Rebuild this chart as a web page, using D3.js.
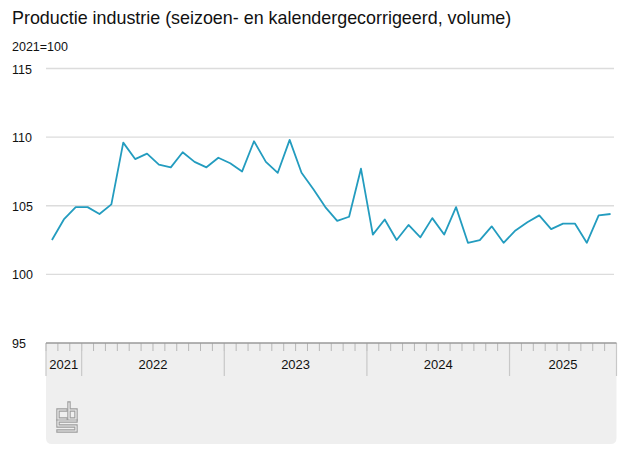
<!DOCTYPE html>
<html><head><meta charset="utf-8">
<script src="https://cdn.jsdelivr.net/npm/d3@7"></script>
<style>
html,body{margin:0;padding:0;background:#fff;}
svg{display:block;font-family:"Liberation Sans",Arial,sans-serif;}
</style></head>
<body><svg id="c" width="627" height="470"></svg>
<script>
const title = "Productie industrie (seizoen- en kalendergecorrigeerd, volume)";
const subtitle = "2021=100";
const years = ["2021","2022","2023","2024","2025"];
const monthsPerYear = [3,12,12,12,9];
const yTicks = [95,100,105,110,115];
const values = [102.5,104.0,104.9,104.9,104.4,105.1,
  109.6,108.4,108.8,108.0,107.8,108.9,108.2,107.8,108.5,108.1,107.5,109.7,
  108.2,107.4,109.8,107.4,106.2,104.9,103.9,104.2,107.7,102.9,104.0,102.5,
  103.6,102.7,104.1,102.9,104.9,102.3,102.5,103.5,102.3,103.2,103.8,104.3,
  103.3,103.7,103.7,102.3,104.3,104.4];

const months = [];
years.forEach((y,i)=>{ const start = i===0 ? 13-monthsPerYear[0] : 1;
  for(let m=0;m<monthsPerYear[i];m++) months.push(y+"-"+(start+m)); });

const svg = d3.select("#c");
const L = 46, R = 616.5, T = 68.5, B = 343;
const x = d3.scaleBand().domain(months).range([L,R]).padding(0);
const y = d3.scaleLinear().domain([95,115]).range([B,T]);

svg.append("text").attr("x",12).attr("y",24).attr("font-size",17.9).attr("fill","#111").text(title);
svg.append("text").attr("x",12).attr("y",51).attr("font-size",12.5).attr("fill","#111").text(subtitle);

// gray axis box
svg.append("path").attr("fill","#efefef")
  .attr("d",`M${L},${B} H${R} V${444-6} Q${R},444 ${R-6},444 H${L+6} Q${L},444 ${L},${444-6} Z`);

// gridlines
svg.append("g").selectAll("line").data(yTicks.filter(d=>d!==95)).join("line")
  .attr("x1",L).attr("x2",614).attr("y1",d=>y(d)).attr("y2",d=>y(d))
  .attr("stroke","#dcdcdc").attr("stroke-width",1.3);
svg.append("g").selectAll("text").data(yTicks).join("text")
  .attr("x",12).attr("y",d=>y(d)+5).attr("font-size",12.5).attr("fill","#111").text(d=>d);

// month ticks
svg.append("g").selectAll("line").data(months).join("line")
  .attr("x1",d=>x(d)).attr("x2",d=>x(d)).attr("y1",B).attr("y2",B+8)
  .attr("stroke","#b8b8b8").attr("stroke-width",1);
// year separators
const yearStart = years.map(yr=>months.find(m=>m.startsWith(yr)));
const yearEnd = years.map(yr=>months.filter(m=>m.startsWith(yr)).slice(-1)[0]);
svg.append("g").selectAll("line").data(yearStart.slice(1).map(m=>x(m)).concat([L,R])).join("line")
  .attr("x1",d=>d).attr("x2",d=>d).attr("y1",B).attr("y2",376)
  .attr("stroke","#c8c8c8").attr("stroke-width",1.2);
svg.append("g").selectAll("text").data(years).join("text")
  .attr("x",(d,i)=>(x(yearStart[i])+x(yearEnd[i])+x.bandwidth())/2)
  .attr("y",369).attr("text-anchor","middle").attr("font-size",13).attr("fill","#111").text(d=>d);
// axis line
svg.append("line").attr("x1",L).attr("x2",R).attr("y1",B).attr("y2",B).attr("stroke","#9a9a9a").attr("stroke-width",1.6);

// data line
const line = d3.line().x((d,i)=>x(months[i])+x.bandwidth()/2).y(d=>y(d));
svg.append("path").datum(values).attr("d",line).attr("fill","none")
  .attr("stroke","#239cbf").attr("stroke-width",1.8).attr("stroke-linejoin","round");

// logo
const logo = svg.append("g").attr("fill","none").attr("stroke-linecap","square");
const lp = ["M66,410 H58 V419 H66","M69,403 V419 H76 V410 H69","M76,421 H58 V426 H76 V431 H58"];
logo.selectAll("path.o").data(lp).join("path").attr("d",d=>d).attr("stroke","#9c9c9c").attr("stroke-width",3.4);
logo.selectAll("path.i").data(lp).join("path").attr("d",d=>d).attr("stroke","#efefef").attr("stroke-width",1.2);
</script></body></html>
